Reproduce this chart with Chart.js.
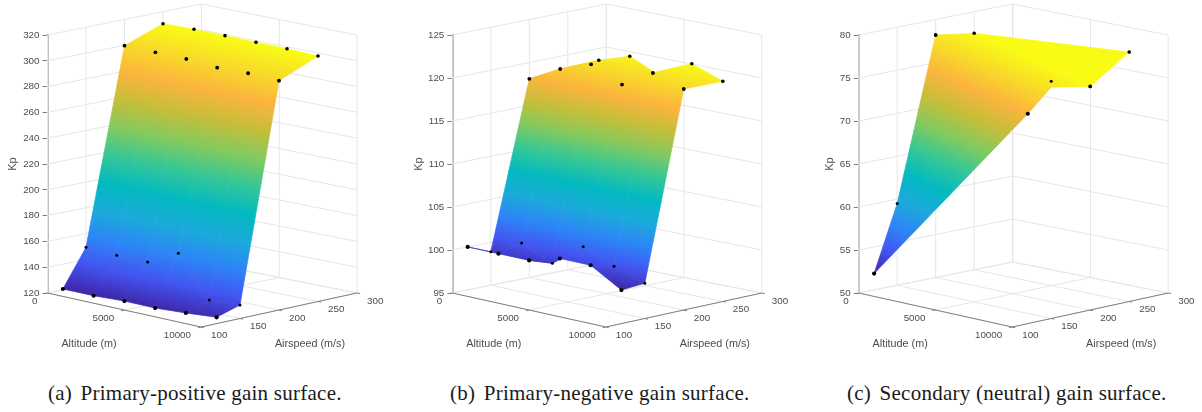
<!DOCTYPE html>
<html>
<head>
<meta charset="utf-8">
<script src="https://cdn.jsdelivr.net/npm/chart.js@4"></script>
<style>
    html, body { margin: 0; padding: 0; background: #fff; }
    body { position: relative; width: 1202px; height: 412px; overflow: hidden; }
    canvas { position: absolute; top: 0; }
    .caption {
        position: absolute; top: 381px; white-space: nowrap; color: #1a1a1a;
        font: 21px "Liberation Serif", serif; letter-spacing: 0.25px;
    }
    .caption span { margin-right: 3px; }
</style>
</head>
<body>
<canvas id="chartA" width="400" height="372" style="left:0"></canvas>
<canvas id="chartB" width="400" height="372" style="left:400px"></canvas>
<canvas id="chartC" width="400" height="372" style="left:802px"></canvas>
<div class="caption" style="left:48px"><span>(a)</span> Primary-positive gain surface.</div>
<div class="caption" style="left:450px"><span>(b)</span> Primary-negative gain surface.</div>
<div class="caption" style="left:847px"><span>(c)</span> Secondary (neutral) gain surface.</div>

<script>
const altTicks = [0, 5000, 10000];
const airTicks = [100, 150, 200, 250, 300];
const airspeeds = [120, 150, 200, 250];
const altitudes = [0, 2000, 4000, 6000, 8000, 10000];
const altitudesNeutral = [0, 10000];

// Kp, one array per airspeed
const posAir120 = [120.7, 120.7, 121.8, 121.6, 123.0, 124.9];
const posAir150 = [149.4, 148.4, 148.3, 160.2, 129.2, 130.5];
const posAir200 = [299.7, 299.6, 299.5, 297.8, 298.5, 297.8];
const posAir250 = [310.7, 311.3, 311.3, 311.1, 311.0, 310.3];

const negAir120 = [100.0, 100.0, 100.0, 101.0, 101.0, 98.9];
const negAir150 = [98.9, 100.7, 99.1, 101.8, 100.3, 99.1];
const negAir200 = [118.1, 120.0, 121.3, 119.7, 121.8, 120.7];
const negAir250 = [118.0, 120.1, 121.3, 119.7, 121.9, 120.6];

const neuAir120 = [51.9, 74.4];
const neuAir150 = [59.5, 77.6];
const neuAir200 = [78.2, 76.0];
const neuAir250 = [77.5, 79.0];

// the fitted surface passes under this measured point in the reference
const neuSurfaceAir150 = [59.5, 76.9];

// points the surface hides in the reference: [airspeed index, altitude index]
const negHidden = [[3, 0], [3, 3]];

// parula colormap
const parula = ['#3e26a8', '#4354f0', '#2d85f7', '#1baada', '#03b9c0', '#35c796',
    '#82ca5f', '#c5be3a', '#fbb43d', '#f8da29', '#f9fb15'];

const AXIS_GREY = '#808080';
const GRID_GREY = '#e6e6e6';
const TEXT_GREY = '#4d4d4d';
const AXIS_HEIGHT = 258;
const MARKER_RADIUS = [2.1, 1.5, 1.9, 1.8]; // per airspeed row

const panels = [
    {
        id: 'chartA', axisLeft: 47.5, titleLeft: 6, kpMin: 120, kpMax: 320, kpStep: 20,
        alts: altitudes, rows: [posAir120, posAir150, posAir200, posAir250], hidden: [],
        tilt: 0.215, gradLow: [0, 120, 120.7], gradHigh: [0, 250, 311]
    },
    {
        id: 'chartB', axisLeft: 52.3, titleLeft: 12.4, kpMin: 95, kpMax: 125, kpStep: 5,
        alts: altitudes, rows: [negAir120, negAir150, negAir200, negAir250], hidden: negHidden,
        tilt: 0.215, gradLow: [10000, 120, 98.9], gradHigh: [8000, 250, 121.9]
    },
    {
        id: 'chartC', axisLeft: 56.7, titleLeft: 21, kpMin: 50, kpMax: 80, kpStep: 5,
        alts: altitudesNeutral, rows: [neuAir120, neuAir150, neuAir200, neuAir250], hidden: [],
        surfaceRows: [neuAir120, neuSurfaceAir150, neuAir200, neuAir250],
        tilt: 0.44, gradLow: [0, 120, 51.9], gradHigh: [0, 250, 77.5]
    }
];

// MATLAB style view: altitude and airspeed both move across the page and change height
function project(panel, alt, air, kp) {
    const a = alt / 10000;
    const b = (air - 100) / 200;
    const rise = -34 * a + 31 * b + 3 * a * b;
    return {
        x: 153.5 * a + 154 * b + 2 * a * b,
        y: kp + rise * (panel.kpMax - panel.kpMin) / AXIS_HEIGHT
    };
}

function kpTicks(panel) {
    const out = [];
    for (let k = panel.kpMin; k <= panel.kpMax; k += panel.kpStep) out.push(k);
    return out;
}

function lineData(panel, segments) {
    const data = [];
    segments.forEach(seg => {
        data.push(project(panel, ...seg[0]), project(panel, ...seg[1]), { x: NaN, y: NaN });
    });
    return data;
}

function gridSegments(panel) {
    const { kpMin, kpMax } = panel;
    const segs = [];
    airTicks.forEach(air => {
        segs.push([[0, air, kpMin], [10000, air, kpMin]]);
        segs.push([[0, air, kpMin], [0, air, kpMax]]);
    });
    altTicks.forEach(alt => {
        segs.push([[alt, 100, kpMin], [alt, 300, kpMin]]);
        segs.push([[alt, 300, kpMin], [alt, 300, kpMax]]);
    });
    kpTicks(panel).forEach(k => {
        segs.push([[0, 100, k], [0, 300, k]]);
        segs.push([[0, 300, k], [10000, 300, k]]);
    });
    return segs;
}

function axisSegments(panel) {
    const k = panel.kpMin;
    const segs = [
        [[0, 100, k], [10000, 100, k]],
        [[10000, 100, k], [10000, 300, k]]
    ];
    altTicks.forEach(alt => segs.push([[alt, 100, k], [alt, 96, k]]));
    airTicks.forEach(air => segs.push([[10000, air, k], [10200, air, k]]));
    return segs;
}

function surfaceDatasets(panel) {
    const rows = panel.surfaceRows || panel.rows;
    const sets = [];
    for (let r = 0; r < rows.length - 1; r++) {
        for (let c = 0; c < panel.alts.length - 1; c++) {
            const air0 = airspeeds[r], air1 = airspeeds[r + 1];
            const alt0 = panel.alts[c], alt1 = panel.alts[c + 1];
            sets.push({
                surface: true,
                data: [
                    project(panel, alt0, air0, rows[r][c]),
                    project(panel, alt1, air0, rows[r][c + 1]),
                    project(panel, alt1, air1, rows[r + 1][c + 1]),
                    project(panel, alt0, air1, rows[r + 1][c])
                ],
                pointRadius: 0,
                order: 2
            });
        }
    }
    return sets;
}

function markerDatasets(panel) {
    return panel.rows.map((row, r) => {
        const data = [];
        row.forEach((kp, c) => {
            if (panel.hidden.some(h => h[0] === r && h[1] === c)) return;
            data.push(project(panel, panel.alts[c], airspeeds[r], kp));
        });
        return { marker: MARKER_RADIUS[r], data: data, pointRadius: 0, order: 0 };
    });
}

function drawSurface(chart, panel) {
    const { x: sx, y: sy } = chart.scales;
    const ctx = chart.ctx;
    const lo = project(panel, ...panel.gradLow);
    const hi = project(panel, ...panel.gradHigh);
    const x0 = sx.getPixelForValue(lo.x), y0 = sy.getPixelForValue(lo.y);
    const x1 = sx.getPixelForValue(hi.x), y1 = sy.getPixelForValue(hi.y);
    const len = Math.hypot(1, panel.tilt);
    const nx = -panel.tilt / len, ny = 1 / len;
    const d = (x1 - x0) * nx + (y1 - y0) * ny;
    const grad = ctx.createLinearGradient(x0, y0, x0 + nx * d, y0 + ny * d);
    parula.forEach((col, i) => grad.addColorStop(i / (parula.length - 1), col));

    ctx.save();
    ctx.fillStyle = grad;
    ctx.strokeStyle = grad;
    ctx.lineWidth = 0.7;
    ctx.lineJoin = 'round';
    chart.data.datasets.forEach((ds, i) => {
        if (!ds.surface) return;
        const pts = chart.getDatasetMeta(i).data;
        ctx.beginPath();
        pts.forEach((p, j) => (j ? ctx.lineTo(p.x, p.y) : ctx.moveTo(p.x, p.y)));
        ctx.closePath();
        ctx.fill();
        ctx.stroke();
    });
    ctx.restore();
}

// surface goes right after the floor axes, so the grid stays behind it
const surfacePlugin = {
    id: 'surface',
    afterDatasetDraw(chart, args, opts) {
        if (chart.data.datasets[args.index].floorAxes) drawSurface(chart, opts.panel);
    },
    // chart.js skips points outside the chart area, these sit past the Kp axis ends
    afterDatasetsDraw(chart) {
        const ctx = chart.ctx;
        ctx.save();
        ctx.fillStyle = '#000';
        chart.data.datasets.forEach((ds, i) => {
            if (!ds.marker) return;
            chart.getDatasetMeta(i).data.forEach(p => {
                ctx.beginPath();
                ctx.arc(p.x, p.y, ds.marker, 0, Math.PI * 2);
                ctx.fill();
            });
        });
        ctx.restore();
    }
};

// tick labels and names of the two floor axes
const floorLabelPlugin = {
    id: 'floorLabels',
    afterDraw(chart, args, opts) {
        const panel = opts.panel;
        const { x: sx, y: sy } = chart.scales;
        const ctx = chart.ctx;
        const at = (alt, air) => {
            const p = project(panel, alt, air, panel.kpMin);
            return [sx.getPixelForValue(p.x), sy.getPixelForValue(p.y)];
        };
        ctx.save();
        ctx.fillStyle = TEXT_GREY;
        ctx.textBaseline = 'middle';
        ctx.font = '9.8px "Liberation Sans", Arial, sans-serif';
        ctx.textAlign = 'right';
        altTicks.forEach(alt => {
            const [x, y] = at(alt, 100);
            ctx.fillText(String(alt), x - 10, y + 8);
        });
        ctx.textAlign = 'left';
        airTicks.forEach(air => {
            const [x, y] = at(10000, air);
            ctx.fillText(String(air), x + 10, y + 8);
        });
        ctx.font = '10.8px "Liberation Sans", Arial, sans-serif';
        ctx.textAlign = 'center';
        ctx.fillText('Altitude (m)', panel.axisLeft + 41.5, 344);
        ctx.fillText('Airspeed (m/s)', panel.axisLeft + 262.5, 344);
        ctx.restore();
    }
};

panels.forEach(panel => {
    const canvas = document.getElementById(panel.id);
    new Chart(canvas.getContext('2d'), {
        type: 'scatter',
        data: {
            datasets: [
                ...markerDatasets(panel),
                ...surfaceDatasets(panel),
                {
                    floorAxes: true,
                    data: lineData(panel, axisSegments(panel)),
                    showLine: true,
                    borderColor: AXIS_GREY,
                    borderWidth: 1,
                    pointRadius: 0,
                    order: 3,
                    clip: false
                },
                {
                    data: lineData(panel, gridSegments(panel)),
                    showLine: true,
                    borderColor: GRID_GREY,
                    borderWidth: 1,
                    pointRadius: 0,
                    order: 4,
                    clip: false
                }
            ]
        },
        options: {
            responsive: false,
            animation: false,
            events: [],
            layout: { padding: { left: panel.titleLeft, right: 0, top: 35, bottom: 372 - 293 } },
            plugins: {
                legend: { display: false },
                tooltip: { enabled: false },
                surface: { panel: panel },
                floorLabels: { panel: panel }
            },
            scales: {
                x: {
                    type: 'linear',
                    display: false,
                    min: 0,
                    max: 400 - panel.axisLeft
                },
                y: {
                    type: 'linear',
                    min: panel.kpMin,
                    max: panel.kpMax,
                    afterFit: scale => { scale.width = panel.axisLeft - panel.titleLeft; },
                    border: { color: AXIS_GREY, width: 1.5 },
                    grid: { drawOnChartArea: false, color: AXIS_GREY, tickLength: 5 },
                    ticks: {
                        stepSize: panel.kpStep,
                        color: TEXT_GREY,
                        padding: 3,
                        font: { family: '"Liberation Sans", Arial, sans-serif', size: 9.8 }
                    },
                    title: {
                        display: true,
                        text: 'Kp',
                        color: TEXT_GREY,
                        padding: 0,
                        font: { family: '"Liberation Sans", Arial, sans-serif', size: 11 }
                    }
                }
            }
        },
        plugins: [surfacePlugin, floorLabelPlugin]
    });
});
</script>
</body>
</html>
